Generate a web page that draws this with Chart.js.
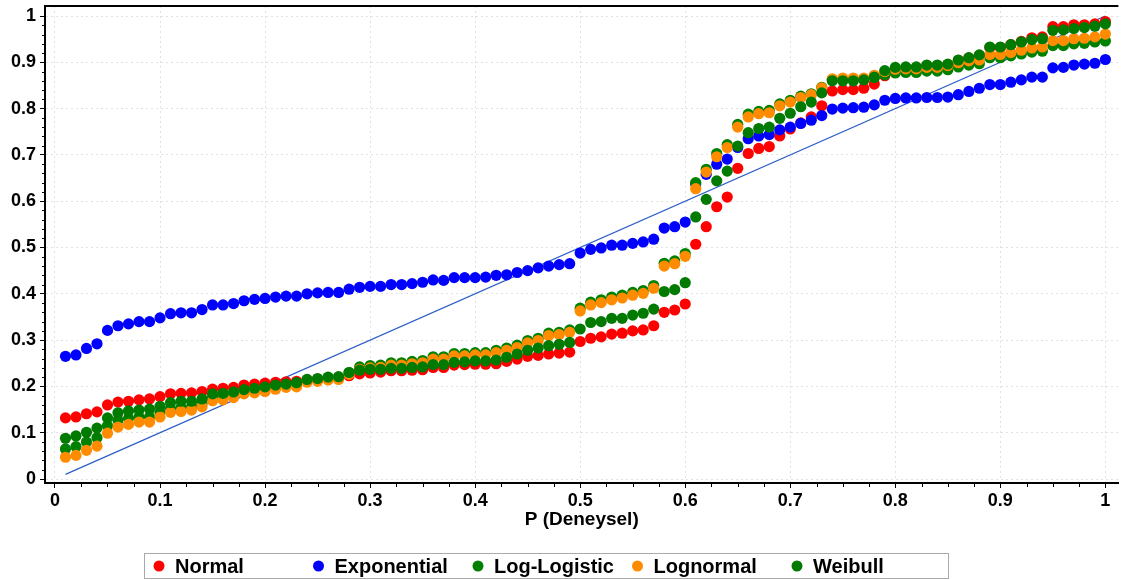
<!DOCTYPE html>
<html>
<head>
<meta charset="utf-8">
<script src="https://cdn.jsdelivr.net/npm/chart.js@4.4.0/dist/chart.umd.min.js"></script>
<style>
  html, body { margin: 0; padding: 0; background: #fff; }
</style>
</head>
<body>
<canvas id="ppChart" width="1124" height="580"></canvas>
<script>
// deneysel (empirik) olasiliklar
const pExp = [
  0.01, 0.02, 0.03, 0.04, 0.05, 0.06, 0.07, 0.08, 0.09, 0.10,
  0.11, 0.12, 0.13, 0.14, 0.15, 0.16, 0.17, 0.18, 0.19, 0.20,
  0.21, 0.22, 0.23, 0.24, 0.25, 0.26, 0.27, 0.28, 0.29, 0.30,
  0.31, 0.32, 0.33, 0.34, 0.35, 0.36, 0.37, 0.38, 0.39, 0.40,
  0.41, 0.42, 0.43, 0.44, 0.45, 0.46, 0.47, 0.48, 0.49, 0.50,
  0.51, 0.52, 0.53, 0.54, 0.55, 0.56, 0.57, 0.58, 0.59, 0.60,
  0.61, 0.62, 0.63, 0.64, 0.65, 0.66, 0.67, 0.68, 0.69, 0.70,
  0.71, 0.72, 0.73, 0.74, 0.75, 0.76, 0.77, 0.78, 0.79, 0.80,
  0.81, 0.82, 0.83, 0.84, 0.85, 0.86, 0.87, 0.88, 0.89, 0.90,
  0.91, 0.92, 0.93, 0.94, 0.95, 0.96, 0.97, 0.98, 0.99, 1.00
];

// teorik olasiliklar, dagilim basina
const normal = [
  0.132, 0.134, 0.141, 0.145, 0.160, 0.166, 0.168, 0.171, 0.173, 0.178,
  0.184, 0.185, 0.186, 0.189, 0.194, 0.196, 0.198, 0.203, 0.205, 0.207,
  0.209, 0.210, 0.211, 0.214, 0.215, 0.217, 0.218, 0.223, 0.227, 0.229,
  0.231, 0.234, 0.234, 0.235, 0.236, 0.241, 0.241, 0.246, 0.247, 0.248,
  0.248, 0.249, 0.254, 0.259, 0.265, 0.267, 0.270, 0.272, 0.274, 0.297,
  0.304, 0.307, 0.313, 0.315, 0.320, 0.322, 0.331, 0.360, 0.365, 0.378,
  0.507, 0.545, 0.588, 0.609, 0.671, 0.703, 0.714, 0.718, 0.741, 0.756,
  0.769, 0.782, 0.806, 0.838, 0.841, 0.841, 0.844, 0.853, 0.871, 0.886,
  0.888, 0.888, 0.892, 0.892, 0.895, 0.904, 0.909, 0.915, 0.932, 0.932,
  0.938, 0.945, 0.953, 0.955, 0.977, 0.977, 0.981, 0.981, 0.983, 0.988
];

const exponential = [
  0.265, 0.268, 0.282, 0.292, 0.321, 0.331, 0.335, 0.340, 0.340, 0.348,
  0.357, 0.359, 0.359, 0.366, 0.376, 0.376, 0.379, 0.385, 0.388, 0.390,
  0.393, 0.395, 0.395, 0.400, 0.402, 0.403, 0.403, 0.410, 0.414, 0.416,
  0.416, 0.420, 0.420, 0.422, 0.425, 0.430, 0.429, 0.435, 0.435, 0.435,
  0.436, 0.440, 0.441, 0.446, 0.450, 0.456, 0.460, 0.463, 0.465, 0.488,
  0.496, 0.499, 0.505, 0.505, 0.509, 0.512, 0.518, 0.542, 0.545, 0.555,
  0.637, 0.658, 0.680, 0.691, 0.716, 0.735, 0.741, 0.744, 0.754, 0.760,
  0.768, 0.775, 0.785, 0.799, 0.801, 0.802, 0.803, 0.808, 0.818, 0.822,
  0.823, 0.823, 0.824, 0.824, 0.825, 0.830, 0.837, 0.844, 0.852, 0.852,
  0.857, 0.862, 0.868, 0.868, 0.888, 0.889, 0.894, 0.896, 0.898, 0.906
];

const logLogistic = [
  0.065, 0.070, 0.080, 0.089, 0.115, 0.127, 0.131, 0.134, 0.134, 0.144,
  0.152, 0.154, 0.156, 0.163, 0.176, 0.178, 0.182, 0.190, 0.192, 0.196,
  0.200, 0.203, 0.204, 0.213, 0.215, 0.218, 0.219, 0.230, 0.242, 0.245,
  0.246, 0.251, 0.251, 0.254, 0.256, 0.264, 0.264, 0.271, 0.271, 0.273,
  0.273, 0.278, 0.283, 0.289, 0.299, 0.304, 0.315, 0.317, 0.322, 0.369,
  0.382, 0.387, 0.393, 0.397, 0.403, 0.407, 0.418, 0.466, 0.471, 0.487,
  0.640, 0.669, 0.703, 0.722, 0.766, 0.788, 0.794, 0.796, 0.810, 0.818,
  0.827, 0.832, 0.846, 0.863, 0.864, 0.864, 0.863, 0.867, 0.873, 0.877,
  0.878, 0.878, 0.881, 0.881, 0.884, 0.890, 0.894, 0.897, 0.910, 0.910,
  0.914, 0.918, 0.922, 0.924, 0.936, 0.936, 0.940, 0.941, 0.944, 0.946
];

const lognormal = [
  0.047, 0.051, 0.062, 0.071, 0.099, 0.112, 0.118, 0.123, 0.123, 0.134,
  0.144, 0.146, 0.149, 0.156, 0.169, 0.171, 0.176, 0.184, 0.186, 0.189,
  0.194, 0.198, 0.199, 0.209, 0.211, 0.214, 0.215, 0.226, 0.237, 0.240,
  0.241, 0.246, 0.246, 0.249, 0.251, 0.259, 0.259, 0.266, 0.266, 0.268,
  0.268, 0.273, 0.278, 0.284, 0.294, 0.299, 0.310, 0.312, 0.317, 0.363,
  0.376, 0.381, 0.387, 0.391, 0.397, 0.401, 0.412, 0.460, 0.465, 0.481,
  0.627, 0.663, 0.696, 0.716, 0.760, 0.782, 0.789, 0.791, 0.806, 0.814,
  0.824, 0.830, 0.845, 0.864, 0.866, 0.866, 0.866, 0.872, 0.880, 0.885,
  0.886, 0.886, 0.889, 0.889, 0.893, 0.899, 0.903, 0.905, 0.917, 0.917,
  0.921, 0.926, 0.931, 0.933, 0.947, 0.947, 0.951, 0.952, 0.955, 0.961
];

const weibull = [
  0.088, 0.093, 0.101, 0.110, 0.132, 0.143, 0.147, 0.149, 0.151, 0.157,
  0.165, 0.168, 0.168, 0.173, 0.184, 0.185, 0.188, 0.193, 0.196, 0.199,
  0.203, 0.205, 0.208, 0.215, 0.217, 0.220, 0.221, 0.230, 0.235, 0.237,
  0.237, 0.239, 0.239, 0.241, 0.242, 0.247, 0.247, 0.252, 0.253, 0.255,
  0.255, 0.257, 0.263, 0.270, 0.278, 0.283, 0.288, 0.291, 0.295, 0.324,
  0.338, 0.340, 0.347, 0.347, 0.354, 0.358, 0.367, 0.405, 0.409, 0.424,
  0.566, 0.604, 0.644, 0.665, 0.719, 0.748, 0.757, 0.760, 0.779, 0.790,
  0.804, 0.814, 0.834, 0.860, 0.860, 0.860, 0.862, 0.868, 0.882, 0.889,
  0.890, 0.890, 0.894, 0.894, 0.896, 0.905, 0.910, 0.916, 0.933, 0.933,
  0.938, 0.944, 0.949, 0.951, 0.969, 0.970, 0.973, 0.975, 0.978, 0.983
];

// referans dogrusu (y = x)
const refLine = [0.01, 1.00];

const seriesNames = ['Normal', 'Exponential', 'Log-Logistic', 'Lognormal', 'Weibull'];
const seriesColors = ['#ff0000', '#0000ff', '#008000', '#ff8c00', '#007a00'];

const xTickValues = [0, 0.1, 0.2, 0.3, 0.4, 0.5, 0.6, 0.7, 0.8, 0.9, 1];
const yTickValues = [0, 0.1, 0.2, 0.3, 0.4, 0.5, 0.6, 0.7, 0.8, 0.9, 1];
const tickLabels  = ['0', '0.1', '0.2', '0.3', '0.4', '0.5', '0.6', '0.7', '0.8', '0.9', '1'];

const FONT = "'Liberation Sans', Arial, sans-serif";

const toPoints = vals => pExp.map((p, i) => ({ x: p, y: vals[i] }));
const labelFor = v => {
  const i = xTickValues.findIndex(t => Math.abs(t - v) < 1e-6);
  return i >= 0 ? tickLabels[i] : '';
};

const allSeries = [normal, exponential, logLogistic, lognormal, weibull];

// later series sit on top, so order runs downward
const datasets = allSeries.map((vals, i) => ({
  label: seriesNames[i],
  data: toPoints(vals),
  backgroundColor: seriesColors[i],
  borderWidth: 0,
  pointRadius: 5.6,
  pointHoverRadius: 5.6,
  pointBorderWidth: 0,
  order: allSeries.length - i
}));

datasets.push({
  label: 'y = x',
  type: 'line',
  data: refLine.map(v => ({ x: v, y: v })),
  borderColor: '#2d5fc8',
  borderWidth: 1.2,
  pointRadius: 0,
  fill: false,
  order: 10
});

const minorTickStep = { x: 0.025, y: 0.02 };

const frameAndLegend = {
  id: 'frameAndLegend',
  afterDraw(chart) {
    const { ctx, chartArea, scales } = chart;
    ctx.save();

    // ust cerceve
    ctx.strokeStyle = '#000';
    ctx.lineWidth = 2;
    ctx.beginPath();
    ctx.moveTo(chartArea.left - 1, chartArea.top);
    ctx.lineTo(chartArea.right, chartArea.top);
    ctx.stroke();

    // ara tikler
    ctx.lineWidth = 1;
    ctx.beginPath();
    for (let k = 0; k <= 40; k++) {
      if (k % 4 === 0) continue;
      const px = Math.round(scales.x.getPixelForValue(k * minorTickStep.x)) + 0.5;
      ctx.moveTo(px, chartArea.bottom);
      ctx.lineTo(px, chartArea.bottom + 4);
    }
    for (let k = 0; k <= 50; k++) {
      if (k % 5 === 0) continue;
      const py = Math.round(scales.y.getPixelForValue(k * minorTickStep.y)) + 0.5;
      ctx.moveTo(chartArea.left, py);
      ctx.lineTo(chartArea.left - 3, py);
    }
    ctx.stroke();

    // lejant
    const boxX = 144.5, boxY = 553.5, boxW = 804, boxH = 25, colW = 159.5;
    ctx.strokeStyle = '#aaaaaa';
    ctx.strokeRect(boxX, boxY, boxW, boxH);
    ctx.font = 'bold 20px ' + FONT;
    ctx.textBaseline = 'middle';
    ctx.textAlign = 'left';
    seriesNames.forEach((name, i) => {
      const cx = 159 + i * colW;
      const cy = boxY + boxH / 2;
      ctx.fillStyle = seriesColors[i];
      ctx.beginPath();
      ctx.arc(cx, cy, 5.5, 0, Math.PI * 2);
      ctx.fill();
      ctx.fillStyle = '#000';
      ctx.fillText(name, cx + 16, cy + 1);
    });
    ctx.restore();
  }
};

const tickFont = { family: FONT, size: 18, weight: 'bold' };
const gridStyle = { color: '#e2e2e2', tickColor: '#000', tickLength: 5, lineWidth: 1 };
const borderStyle = { color: '#000', width: 2, dash: [2, 3] };

new Chart(document.getElementById('ppChart'), {
  type: 'scatter',
  data: { datasets },
  options: {
    responsive: false,
    animation: false,
    layout: { padding: { top: 6, right: 2, bottom: 48, left: 0 } },
    plugins: {
      legend: { display: false },
      tooltip: { enabled: false }
    },
    scales: {
      x: {
        type: 'linear',
        min: -0.0095,
        max: 1.0124,
        afterBuildTicks: s => { s.ticks = xTickValues.map(v => ({ value: v })); },
        afterFit: s => { s.height = 49; s.paddingLeft = 0; s.paddingRight = 0; },
        ticks: { font: tickFont, color: '#000', padding: 2, maxRotation: 0, autoSkip: false, callback: labelFor },
        grid: gridStyle,
        border: borderStyle,
        title: {
          display: true,
          text: 'P (Deneysel)',
          color: '#000',
          font: { family: FONT, size: 19, weight: 'bold' },
          padding: { top: 0, bottom: 1 }
        }
      },
      y: {
        type: 'linear',
        min: -0.0086,
        max: 1.0216,
        afterBuildTicks: s => { s.ticks = yTickValues.map(v => ({ value: v })); },
        afterFit: s => { s.width = 45; s.paddingTop = 0; s.paddingBottom = 0; },
        ticks: { font: tickFont, color: '#000', padding: 4, autoSkip: false, callback: labelFor },
        grid: gridStyle,
        border: borderStyle
      }
    }
  },
  plugins: [frameAndLegend]
});
</script>
</body>
</html>
